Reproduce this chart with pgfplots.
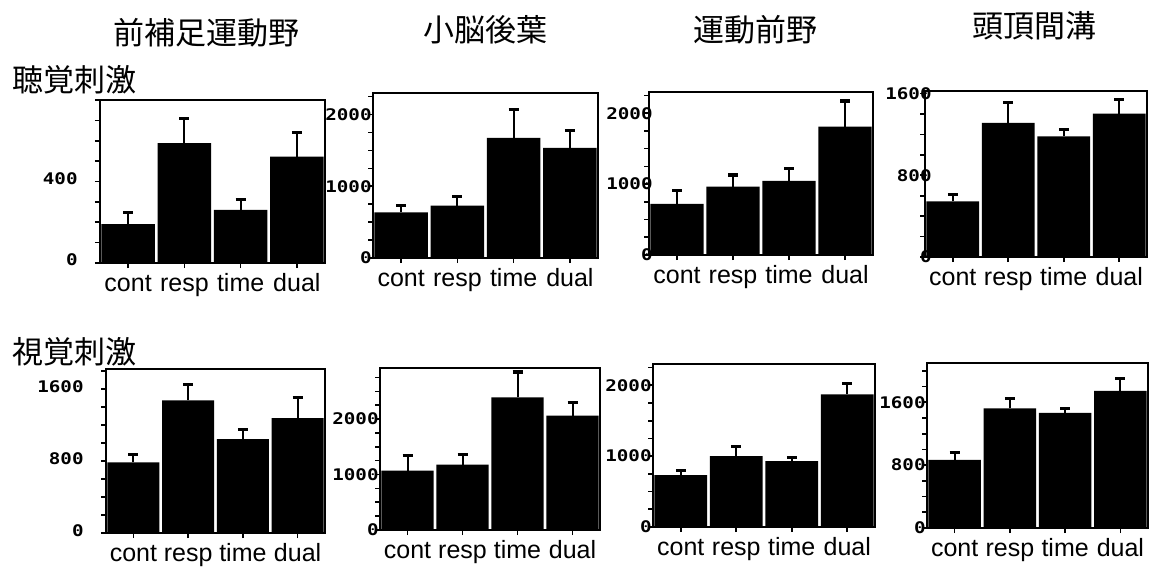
\documentclass[border=0pt]{standalone}
\usepackage{pgfplots}
\usepackage{pgfplotstable}
\pgfplotsset{compat=1.18}
\usepackage{fontspec}
\setmainfont{Liberation Sans}
\newfontfamily\cjk{Noto Sans CJK JP}
\newfontfamily\tnfont{DejaVu Sans Mono}[FakeStretch=1.2]

% x  value  err(plus)
\pgfplotstableread{
x y e
0 191 57
1 588 122
2 261 49
3 522 118
}\tA
\pgfplotstableread{
x y e
0 637 98
1 730 130
2 1674 396
3 1535 246
}\tB
\pgfplotstableread{
x y e
0 720 188
1 965 164
2 1045 179
3 1812 362
}\tC
\pgfplotstableread{
x y e
0 545 69
1 1313 199
2 1182 65
3 1404 137
}\tD
\pgfplotstableread{
x y e
0 785 82
1 1473 175
2 1042 104
3 1276 224
}\tE
\pgfplotstableread{
x y e
0 1072 271
1 1180 187
2 2391 458
3 2060 241
}\tF
\pgfplotstableread{
x y e
0 731 71
1 1000 141
2 929 47
3 1873 155
}\tG
\pgfplotstableread{
x y e
0 868 94
1 1521 129
2 1466 55
3 1744 162
}\tH

\pgfplotsset{
  panel/.style={
    scale only axis,
    anchor=south west,
    xmin=-0.5, xmax=3.5, ymin=0,
    xtick={0,1,2,3},
    xticklabels={cont,resp,time,dual},
    xtick pos=bottom, ytick pos=left,
    tick align=outside,
    major tick length=2.5pt, minor tick length=2.5pt,
    every tick/.style={black, line width=0.8pt},
    axis line style={line width=1pt},
    xticklabel style={font=\fontsize{12.5}{14}\selectfont, anchor=base, inner sep=0pt, yshift=-11.5pt},
    yticklabel style={font=\tnfont\bfseries\fontsize{8}{9}\selectfont, anchor=east, inner sep=0pt},
    /pgf/number format/assume math mode=true,
    /pgf/number format/1000 sep={},
    ybar, bar width=0.95,
  },
  barplot/.style={fill=black, draw=none,
    error bars/.cd, y dir=plus, y explicit,
    error bar style={line width=1pt, black},
    error mark options={rotate=90, line width=1.6pt, mark size=2.5pt, black}},
}

\begin{document}
\begin{tikzpicture}
\useasboundingbox (0,0) rectangle (575.5pt,-283.5pt);

% Titles
\tikzset{ttl/.style={font=\cjk\fontsize{15.5}{16}\selectfont}}
\node[ttl] at (103pt,-16.5pt) {前補足運動野};
\node[ttl] at (242.5pt,-15pt) {小脳後葉};
\node[ttl] at (377.5pt,-15pt) {運動前野};
\node[ttl] at (517pt,-13pt) {頭頂間溝};
\node[ttl, anchor=west, inner sep=0pt] at (6pt,-40pt) {聴覚刺激};
\node[ttl, anchor=west, inner sep=0pt] at (6pt,-176pt) {視覚刺激};

% Row 1
\begin{axis}[panel, at={(50pt,-131.5pt)}, width=112.5pt, height=81.5pt,
  ymax=800, ytick={0,400}, minor ytick={100,200,300,500,600,700,800},
  yticklabel style={xshift=-8.5pt, yshift=1.5pt}]
\addplot[barplot] table[x=x,y=y,y error=e]{\tA};
\end{axis}
\begin{axis}[panel, at={(186.5pt,-129pt)}, width=112.5pt, height=82.5pt,
  ymax=2300, ytick={0,1000,2000}, minor ytick={250,500,750,1250,1500,1750,2250},
  yticklabel style={xshift=2pt}]
\addplot[barplot] table[x=x,y=y,y error=e]{\tB};
\end{axis}
\begin{axis}[panel, at={(324.5pt,-127.5pt)}, width=112pt, height=81.5pt,
  ymax=2300, ytick={0,1000,2000}, minor ytick={250,500,750,1250,1500,1750,2250},
  yticklabel style={xshift=4.5pt}]
\addplot[barplot] table[x=x,y=y,y error=e]{\tC};
\end{axis}
\begin{axis}[panel, at={(462.5pt,-128.5pt)}, width=111pt, height=83pt,
  ymax=1625, ytick={0,800,1600}, minor ytick={200,400,600,1000,1200,1400},
  yticklabel style={xshift=6pt}]
\addplot[barplot] table[x=x,y=y,y error=e]{\tD};
\end{axis}

% Row 2
\begin{axis}[panel, at={(53pt,-266.5pt)}, width=109.5pt, height=82pt,
  ymax=1820, ytick={0,800,1600}, minor ytick={200,400,600,1000,1200,1400,1800},
  yticklabel style={xshift=-8.5pt, yshift=1pt}]
\addplot[barplot] table[x=x,y=y,y error=e]{\tE};
\end{axis}
\begin{axis}[panel, at={(190pt,-265pt)}, width=110pt, height=81pt,
  ymax=2920, ytick={0,1000,2000}, minor ytick={250,500,750,1250,1500,1750,2250,2500,2750},
  yticklabel style={xshift=2pt}]
\addplot[barplot] table[x=x,y=y,y error=e]{\tF};
\end{axis}
\begin{axis}[panel, at={(326.5pt,-263.5pt)}, width=111pt, height=81.5pt,
  ymax=2300, ytick={0,1000,2000}, minor ytick={250,500,750,1250,1500,1750,2250},
  yticklabel style={xshift=2pt}]
\addplot[barplot] table[x=x,y=y,y error=e]{\tG};
\end{axis}
\begin{axis}[panel, at={(463.5pt,-264pt)}, width=110.5pt, height=82.5pt,
  ymax=2100, ytick={0,800,1600}, minor ytick={200,400,600,1000,1200,1400,1800,2000},
  yticklabel style={xshift=2pt}]
\addplot[barplot] table[x=x,y=y,y error=e]{\tH};
\end{axis}
\end{tikzpicture}
\end{document}
